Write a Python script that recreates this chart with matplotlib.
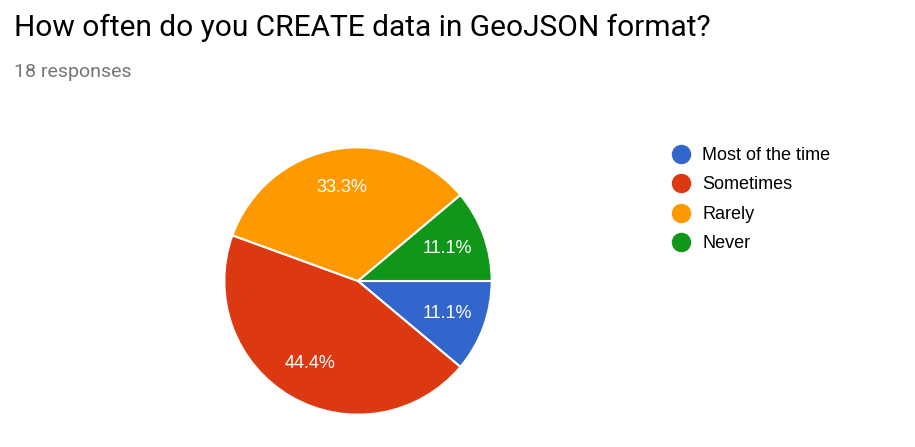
import matplotlib
matplotlib.use("Agg")
import matplotlib.pyplot as plt
from matplotlib.lines import Line2D

title = "How often do you CREATE data in GeoJSON format?"
subtitle = "18 responses"
labels = ["Most of the time", "Sometimes", "Rarely", "Never"]
counts = [2, 8, 6, 2]
colors = ["#3366cc", "#dc3912", "#ff9900", "#109618"]

W, H = 915, 447
fig = plt.figure(figsize=(W / 100, H / 100), dpi=100)

# pie centre (358, 281) px from top-left, radius 135 px
cx, cy, r = 358, 281, 135
ax = fig.add_axes([(cx - r) / W, (H - cy - r) / H, 2 * r / W, 2 * r / H])
wedges, _, autotexts = ax.pie(
    counts, colors=colors, startangle=0, counterclock=False,
    autopct="%1.1f%%", pctdistance=0.71, radius=1,
    wedgeprops=dict(edgecolor="white", linewidth=1.5),
    textprops=dict(color="white", fontsize=13, family="Liberation Sans"))
ax.set_xlim(-1.01, 1.01)
ax.set_ylim(-1.01, 1.01)
ax.set_aspect("equal")

fig.text(14 / W, 1 - 28 / H, title, fontsize=21.5, family="Roboto",
         color="#000000", va="center", ha="left")
fig.text(14 / W, 1 - 72 / H, subtitle, fontsize=14, family="Roboto",
         color="#757575", va="center", ha="left")

handles = [Line2D([], [], marker="o", linestyle="", markersize=13,
                  markerfacecolor=c, markeredgecolor=c) for c in colors]
fig.legend(handles, labels, loc="upper left", bbox_to_anchor=(672 / W, 1 - 147 / H),
           frameon=False, prop=dict(family="Liberation Sans", size=13),
           handlelength=1.0, handletextpad=0.67, labelspacing=0.69,
           borderpad=0, borderaxespad=0)

fig.savefig("out.png", dpi=100, facecolor="white")
